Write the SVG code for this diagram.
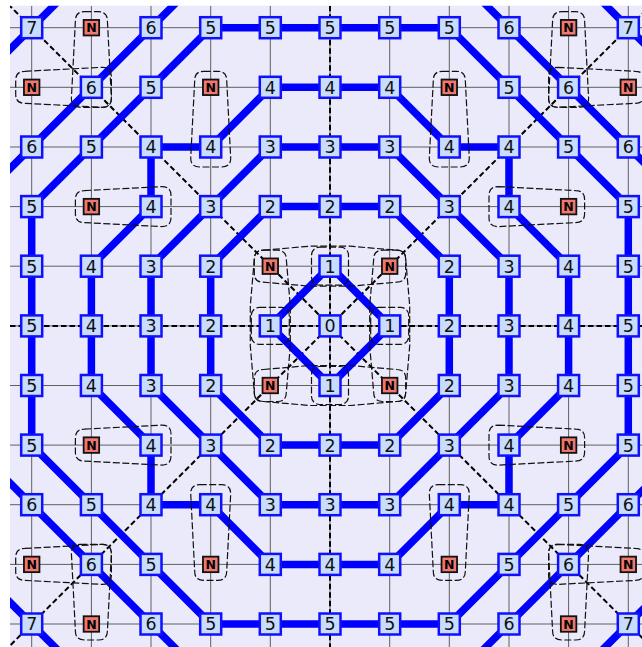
<svg xmlns="http://www.w3.org/2000/svg" xmlns:xlink="http://www.w3.org/1999/xlink" width="642" height="647" viewBox="0 0 642 647">
<style>
.grid{stroke:#606060;stroke-width:1;fill:none}
.axis{stroke:#000;stroke-width:2;stroke-dasharray:5.5 3;fill:none}
.ring{stroke:#0000ff;stroke-width:7.5;fill:none;stroke-linejoin:round;stroke-linecap:round}
.loop{fill:none;stroke:#111;stroke-width:1.2;stroke-dasharray:7 2.5}
.b{fill:#c8dcff;stroke:#1010ff;stroke-width:2.5}
.nb{fill:#f2776e;stroke:#111;stroke-width:1.8}
.t{font-family:"DejaVu Sans",sans-serif;font-size:17.5px;text-anchor:middle;fill:#111}
.tn{font-family:"DejaVu Sans",sans-serif;font-size:12.5px;font-weight:bold;text-anchor:middle;fill:#000}
</style>
<defs>
<clipPath id="plot"><rect x="10" y="5.7" width="632" height="641.3"/></clipPath>
<rect id="bx" class="b" x="-10.5" y="-10.5" width="21" height="21"/>
<rect id="nx" class="nb" x="-7.75" y="-7.75" width="15.5" height="15.5"/>
</defs>
<rect x="10" y="5.7" width="632" height="641.3" fill="#eaeafa"/>
<g clip-path="url(#plot)">
<path class="grid" d="M31.7 5.7V647M91.4 5.7V647M151 5.7V647M210.7 5.7V647M270.3 5.7V647M330 5.7V647M389.7 5.7V647M449.3 5.7V647M509 5.7V647M568.6 5.7V647M628.3 5.7V647M10 27.7H642M10 87.3H642M10 147H642M10 206.6H642M10 266.2H642M10 325.9H642M10 385.5H642M10 445.1H642M10 504.7H642M10 564.4H642M10 624H642"/>
<g id="connectors">
<path class="axis" d="M10 325.9H642M330 5.7V647M-28 -31.9L688 683.6M688 -31.9L-28 683.6"/>
<path class="ring" d="M330 266.2L389.7 325.9L330 385.5L270.3 325.9Z"/>
<path class="ring" d="M270.3 206.6H389.7L449.3 266.2V385.5L389.7 445.1H270.3L210.7 385.5V266.2Z"/>
<path class="ring" d="M270.3 147H389.7L509 266.2V385.5L389.7 504.7H270.3L151 385.5V266.2Z"/>
<path class="ring" d="M270.3 87.3H389.7L449.3 147H509V206.6L568.6 266.2V385.5L509 445.1V504.7H449.3L389.7 564.4H270.3L210.7 504.7H151V445.1L91.4 385.5V266.2L151 206.6V147H210.7Z"/>
<path class="ring" d="M210.7 27.7H449.3L628.3 206.6V445.1L449.3 624H210.7L31.7 445.1V206.6Z"/>
<path class="ring" d="M210.7 -31.9L-28 206.6M449.3 -31.9L688 206.6M-28 445.1L210.7 683.6M688 445.1L449.3 683.6"/>
<path class="ring" d="M-28 87.3L91.4 -31.9M568.6 -31.9L688 87.3M-28 564.4L91.4 683.6M568.6 683.6L688 564.4"/>
</g>
<g id="loops">
<path class="loop" d="M84.4,11.7 L98.4,11.7 Q107.4,11.7 107.4,20.7 L111.4,98.3 Q111.4,107.3 102.4,107.3 L80.4,107.3 Q71.4,107.3 71.4,98.3 L75.4,20.7 Q75.4,11.7 84.4,11.7 Z"/>
<path class="loop" d="M24.7,71.3 L102.4,67.3 Q111.4,67.3 111.4,76.3 L111.4,98.3 Q111.4,107.3 102.4,107.3 L24.7,103.3 Q15.7,103.3 15.7,94.3 L15.7,80.3 Q15.7,71.3 24.7,71.3 Z"/>
<path class="loop" d="M203.7,71.3 L217.7,71.3 Q226.7,71.3 226.7,80.3 L230.7,158 Q230.7,167 221.7,167 L199.7,167 Q190.7,167 190.7,158 L194.7,80.3 Q194.7,71.3 203.7,71.3 Z"/>
<path class="loop" d="M84.4,190.6 L162,186.6 Q171,186.6 171,195.6 L171,217.6 Q171,226.6 162,226.6 L84.4,222.6 Q75.4,222.6 75.4,213.6 L75.4,199.6 Q75.4,190.6 84.4,190.6 Z"/>
<path class="loop" d="M561.6,11.7 L575.6,11.7 Q584.6,11.7 584.6,20.7 L588.6,98.3 Q588.6,107.3 579.6,107.3 L557.6,107.3 Q548.6,107.3 548.6,98.3 L552.6,20.7 Q552.6,11.7 561.6,11.7 Z"/>
<path class="loop" d="M557.6,67.3 L635.3,71.3 Q644.3,71.3 644.3,80.3 L644.3,94.3 Q644.3,103.3 635.3,103.3 L557.6,107.3 Q548.6,107.3 548.6,98.3 L548.6,76.3 Q548.6,67.3 557.6,67.3 Z"/>
<path class="loop" d="M442.3,71.3 L456.3,71.3 Q465.3,71.3 465.3,80.3 L469.3,158 Q469.3,167 460.3,167 L438.3,167 Q429.3,167 429.3,158 L433.3,80.3 Q433.3,71.3 442.3,71.3 Z"/>
<path class="loop" d="M498,186.6 L575.6,190.6 Q584.6,190.6 584.6,199.6 L584.6,213.6 Q584.6,222.6 575.6,222.6 L498,226.6 Q489,226.6 489,217.6 L489,195.6 Q489,186.6 498,186.6 Z"/>
<path class="loop" d="M80.4,544.4 L102.4,544.4 Q111.4,544.4 111.4,553.4 L107.4,631 Q107.4,640 98.4,640 L84.4,640 Q75.4,640 75.4,631 L71.4,553.4 Q71.4,544.4 80.4,544.4 Z"/>
<path class="loop" d="M24.7,548.4 L102.4,544.4 Q111.4,544.4 111.4,553.4 L111.4,575.4 Q111.4,584.4 102.4,584.4 L24.7,580.4 Q15.7,580.4 15.7,571.4 L15.7,557.4 Q15.7,548.4 24.7,548.4 Z"/>
<path class="loop" d="M199.7,484.7 L221.7,484.7 Q230.7,484.7 230.7,493.7 L226.7,571.4 Q226.7,580.4 217.7,580.4 L203.7,580.4 Q194.7,580.4 194.7,571.4 L190.7,493.7 Q190.7,484.7 199.7,484.7 Z"/>
<path class="loop" d="M84.4,429.1 L162,425.1 Q171,425.1 171,434.1 L171,456.1 Q171,465.1 162,465.1 L84.4,461.1 Q75.4,461.1 75.4,452.1 L75.4,438.1 Q75.4,429.1 84.4,429.1 Z"/>
<path class="loop" d="M557.6,544.4 L579.6,544.4 Q588.6,544.4 588.6,553.4 L584.6,631 Q584.6,640 575.6,640 L561.6,640 Q552.6,640 552.6,631 L548.6,553.4 Q548.6,544.4 557.6,544.4 Z"/>
<path class="loop" d="M557.6,544.4 L635.3,548.4 Q644.3,548.4 644.3,557.4 L644.3,571.4 Q644.3,580.4 635.3,580.4 L557.6,584.4 Q548.6,584.4 548.6,575.4 L548.6,553.4 Q548.6,544.4 557.6,544.4 Z"/>
<path class="loop" d="M438.3,484.7 L460.3,484.7 Q469.3,484.7 469.3,493.7 L465.3,571.4 Q465.3,580.4 456.3,580.4 L442.3,580.4 Q433.3,580.4 433.3,571.4 L429.3,493.7 Q429.3,484.7 438.3,484.7 Z"/>
<path class="loop" d="M498,425.1 L575.6,429.1 Q584.6,429.1 584.6,438.1 L584.6,452.1 Q584.6,461.1 575.6,461.1 L498,465.1 Q489,465.1 489,456.1 L489,434.1 Q489,425.1 498,425.1 Z"/>
<path class="loop" d="M263.3,250.2 L310,246.2 L350,246.2 L396.7,250.2 Q405.7,250.2 405.7,259.2 L405.7,273.2 Q405.7,282.2 396.7,282.2 L350,286.2 L310,286.2 L263.3,282.2 Q254.3,282.2 254.3,273.2 L254.3,259.2 Q254.3,250.2 263.3,250.2 Z"/>
<path class="loop" d="M263.3,369.5 L310,365.5 L350,365.5 L396.7,369.5 Q405.7,369.5 405.7,378.5 L405.7,392.5 Q405.7,401.5 396.7,401.5 L350,405.5 L310,405.5 L263.3,401.5 Q254.3,401.5 254.3,392.5 L254.3,378.5 Q254.3,369.5 263.3,369.5 Z"/>
<path class="loop" d="M263.3,250.2 L277.3,250.2 Q286.3,250.2 286.3,259.2 L290.3,305.9 L290.3,345.9 L286.3,392.5 Q286.3,401.5 277.3,401.5 L263.3,401.5 Q254.3,401.5 254.3,392.5 L250.3,345.9 L250.3,305.9 L254.3,259.2 Q254.3,250.2 263.3,250.2 Z"/>
<path class="loop" d="M382.7,250.2 L396.7,250.2 Q405.7,250.2 405.7,259.2 L409.7,305.9 L409.7,345.9 L405.7,392.5 Q405.7,401.5 396.7,401.5 L382.7,401.5 Q373.7,401.5 373.7,392.5 L369.7,345.9 L369.7,305.9 L373.7,259.2 Q373.7,250.2 382.7,250.2 Z"/>
<rect class="loop" x="311.5" y="247.2" width="37" height="38" rx="8"/>
<rect class="loop" x="251.3" y="307.4" width="38" height="37" rx="8"/>
<rect class="loop" x="370.7" y="307.4" width="38" height="37" rx="8"/>
<rect class="loop" x="311.5" y="366.5" width="37" height="38" rx="8"/>
</g>
</g>
<g id="nodes">
<g id="n0-0" transform="translate(31.7 27.7)"><use href="#bx"/><text class="t" y="6.4">7</text></g>
<g id="n0-1" transform="translate(91.4 27.7)"><use href="#nx"/><text class="tn" y="4.6">N</text></g>
<g id="n0-2" transform="translate(151 27.7)"><use href="#bx"/><text class="t" y="6.4">6</text></g>
<g id="n0-3" transform="translate(210.7 27.7)"><use href="#bx"/><text class="t" y="6.4">5</text></g>
<g id="n0-4" transform="translate(270.3 27.7)"><use href="#bx"/><text class="t" y="6.4">5</text></g>
<g id="n0-5" transform="translate(330 27.7)"><use href="#bx"/><text class="t" y="6.4">5</text></g>
<g id="n0-6" transform="translate(389.7 27.7)"><use href="#bx"/><text class="t" y="6.4">5</text></g>
<g id="n0-7" transform="translate(449.3 27.7)"><use href="#bx"/><text class="t" y="6.4">5</text></g>
<g id="n0-8" transform="translate(509 27.7)"><use href="#bx"/><text class="t" y="6.4">6</text></g>
<g id="n0-9" transform="translate(568.6 27.7)"><use href="#nx"/><text class="tn" y="4.6">N</text></g>
<g id="n0-10" transform="translate(628.3 27.7)"><use href="#bx"/><text class="t" y="6.4">7</text></g>

<g id="n1-0" transform="translate(31.7 87.3)"><use href="#nx"/><text class="tn" y="4.6">N</text></g>
<g id="n1-1" transform="translate(91.4 87.3)"><use href="#bx"/><text class="t" y="6.4">6</text></g>
<g id="n1-2" transform="translate(151 87.3)"><use href="#bx"/><text class="t" y="6.4">5</text></g>
<g id="n1-3" transform="translate(210.7 87.3)"><use href="#nx"/><text class="tn" y="4.6">N</text></g>
<g id="n1-4" transform="translate(270.3 87.3)"><use href="#bx"/><text class="t" y="6.4">4</text></g>
<g id="n1-5" transform="translate(330 87.3)"><use href="#bx"/><text class="t" y="6.4">4</text></g>
<g id="n1-6" transform="translate(389.7 87.3)"><use href="#bx"/><text class="t" y="6.4">4</text></g>
<g id="n1-7" transform="translate(449.3 87.3)"><use href="#nx"/><text class="tn" y="4.6">N</text></g>
<g id="n1-8" transform="translate(509 87.3)"><use href="#bx"/><text class="t" y="6.4">5</text></g>
<g id="n1-9" transform="translate(568.6 87.3)"><use href="#bx"/><text class="t" y="6.4">6</text></g>
<g id="n1-10" transform="translate(628.3 87.3)"><use href="#nx"/><text class="tn" y="4.6">N</text></g>

<g id="n2-0" transform="translate(31.7 147)"><use href="#bx"/><text class="t" y="6.4">6</text></g>
<g id="n2-1" transform="translate(91.4 147)"><use href="#bx"/><text class="t" y="6.4">5</text></g>
<g id="n2-2" transform="translate(151 147)"><use href="#bx"/><text class="t" y="6.4">4</text></g>
<g id="n2-3" transform="translate(210.7 147)"><use href="#bx"/><text class="t" y="6.4">4</text></g>
<g id="n2-4" transform="translate(270.3 147)"><use href="#bx"/><text class="t" y="6.4">3</text></g>
<g id="n2-5" transform="translate(330 147)"><use href="#bx"/><text class="t" y="6.4">3</text></g>
<g id="n2-6" transform="translate(389.7 147)"><use href="#bx"/><text class="t" y="6.4">3</text></g>
<g id="n2-7" transform="translate(449.3 147)"><use href="#bx"/><text class="t" y="6.4">4</text></g>
<g id="n2-8" transform="translate(509 147)"><use href="#bx"/><text class="t" y="6.4">4</text></g>
<g id="n2-9" transform="translate(568.6 147)"><use href="#bx"/><text class="t" y="6.4">5</text></g>
<g id="n2-10" transform="translate(628.3 147)"><use href="#bx"/><text class="t" y="6.4">6</text></g>

<g id="n3-0" transform="translate(31.7 206.6)"><use href="#bx"/><text class="t" y="6.4">5</text></g>
<g id="n3-1" transform="translate(91.4 206.6)"><use href="#nx"/><text class="tn" y="4.6">N</text></g>
<g id="n3-2" transform="translate(151 206.6)"><use href="#bx"/><text class="t" y="6.4">4</text></g>
<g id="n3-3" transform="translate(210.7 206.6)"><use href="#bx"/><text class="t" y="6.4">3</text></g>
<g id="n3-4" transform="translate(270.3 206.6)"><use href="#bx"/><text class="t" y="6.4">2</text></g>
<g id="n3-5" transform="translate(330 206.6)"><use href="#bx"/><text class="t" y="6.4">2</text></g>
<g id="n3-6" transform="translate(389.7 206.6)"><use href="#bx"/><text class="t" y="6.4">2</text></g>
<g id="n3-7" transform="translate(449.3 206.6)"><use href="#bx"/><text class="t" y="6.4">3</text></g>
<g id="n3-8" transform="translate(509 206.6)"><use href="#bx"/><text class="t" y="6.4">4</text></g>
<g id="n3-9" transform="translate(568.6 206.6)"><use href="#nx"/><text class="tn" y="4.6">N</text></g>
<g id="n3-10" transform="translate(628.3 206.6)"><use href="#bx"/><text class="t" y="6.4">5</text></g>

<g id="n4-0" transform="translate(31.7 266.2)"><use href="#bx"/><text class="t" y="6.4">5</text></g>
<g id="n4-1" transform="translate(91.4 266.2)"><use href="#bx"/><text class="t" y="6.4">4</text></g>
<g id="n4-2" transform="translate(151 266.2)"><use href="#bx"/><text class="t" y="6.4">3</text></g>
<g id="n4-3" transform="translate(210.7 266.2)"><use href="#bx"/><text class="t" y="6.4">2</text></g>
<g id="n4-4" transform="translate(270.3 266.2)"><use href="#nx"/><text class="tn" y="4.6">N</text></g>
<g id="n4-5" transform="translate(330 266.2)"><use href="#bx"/><text class="t" y="6.4">1</text></g>
<g id="n4-6" transform="translate(389.7 266.2)"><use href="#nx"/><text class="tn" y="4.6">N</text></g>
<g id="n4-7" transform="translate(449.3 266.2)"><use href="#bx"/><text class="t" y="6.4">2</text></g>
<g id="n4-8" transform="translate(509 266.2)"><use href="#bx"/><text class="t" y="6.4">3</text></g>
<g id="n4-9" transform="translate(568.6 266.2)"><use href="#bx"/><text class="t" y="6.4">4</text></g>
<g id="n4-10" transform="translate(628.3 266.2)"><use href="#bx"/><text class="t" y="6.4">5</text></g>

<g id="n5-0" transform="translate(31.7 325.9)"><use href="#bx"/><text class="t" y="6.4">5</text></g>
<g id="n5-1" transform="translate(91.4 325.9)"><use href="#bx"/><text class="t" y="6.4">4</text></g>
<g id="n5-2" transform="translate(151 325.9)"><use href="#bx"/><text class="t" y="6.4">3</text></g>
<g id="n5-3" transform="translate(210.7 325.9)"><use href="#bx"/><text class="t" y="6.4">2</text></g>
<g id="n5-4" transform="translate(270.3 325.9)"><use href="#bx"/><text class="t" y="6.4">1</text></g>
<g id="n5-5" transform="translate(330 325.9)"><use href="#bx"/><text class="t" y="6.4">0</text></g>
<g id="n5-6" transform="translate(389.7 325.9)"><use href="#bx"/><text class="t" y="6.4">1</text></g>
<g id="n5-7" transform="translate(449.3 325.9)"><use href="#bx"/><text class="t" y="6.4">2</text></g>
<g id="n5-8" transform="translate(509 325.9)"><use href="#bx"/><text class="t" y="6.4">3</text></g>
<g id="n5-9" transform="translate(568.6 325.9)"><use href="#bx"/><text class="t" y="6.4">4</text></g>
<g id="n5-10" transform="translate(628.3 325.9)"><use href="#bx"/><text class="t" y="6.4">5</text></g>

<g id="n6-0" transform="translate(31.7 385.5)"><use href="#bx"/><text class="t" y="6.4">5</text></g>
<g id="n6-1" transform="translate(91.4 385.5)"><use href="#bx"/><text class="t" y="6.4">4</text></g>
<g id="n6-2" transform="translate(151 385.5)"><use href="#bx"/><text class="t" y="6.4">3</text></g>
<g id="n6-3" transform="translate(210.7 385.5)"><use href="#bx"/><text class="t" y="6.4">2</text></g>
<g id="n6-4" transform="translate(270.3 385.5)"><use href="#nx"/><text class="tn" y="4.6">N</text></g>
<g id="n6-5" transform="translate(330 385.5)"><use href="#bx"/><text class="t" y="6.4">1</text></g>
<g id="n6-6" transform="translate(389.7 385.5)"><use href="#nx"/><text class="tn" y="4.6">N</text></g>
<g id="n6-7" transform="translate(449.3 385.5)"><use href="#bx"/><text class="t" y="6.4">2</text></g>
<g id="n6-8" transform="translate(509 385.5)"><use href="#bx"/><text class="t" y="6.4">3</text></g>
<g id="n6-9" transform="translate(568.6 385.5)"><use href="#bx"/><text class="t" y="6.4">4</text></g>
<g id="n6-10" transform="translate(628.3 385.5)"><use href="#bx"/><text class="t" y="6.4">5</text></g>

<g id="n7-0" transform="translate(31.7 445.1)"><use href="#bx"/><text class="t" y="6.4">5</text></g>
<g id="n7-1" transform="translate(91.4 445.1)"><use href="#nx"/><text class="tn" y="4.6">N</text></g>
<g id="n7-2" transform="translate(151 445.1)"><use href="#bx"/><text class="t" y="6.4">4</text></g>
<g id="n7-3" transform="translate(210.7 445.1)"><use href="#bx"/><text class="t" y="6.4">3</text></g>
<g id="n7-4" transform="translate(270.3 445.1)"><use href="#bx"/><text class="t" y="6.4">2</text></g>
<g id="n7-5" transform="translate(330 445.1)"><use href="#bx"/><text class="t" y="6.4">2</text></g>
<g id="n7-6" transform="translate(389.7 445.1)"><use href="#bx"/><text class="t" y="6.4">2</text></g>
<g id="n7-7" transform="translate(449.3 445.1)"><use href="#bx"/><text class="t" y="6.4">3</text></g>
<g id="n7-8" transform="translate(509 445.1)"><use href="#bx"/><text class="t" y="6.4">4</text></g>
<g id="n7-9" transform="translate(568.6 445.1)"><use href="#nx"/><text class="tn" y="4.6">N</text></g>
<g id="n7-10" transform="translate(628.3 445.1)"><use href="#bx"/><text class="t" y="6.4">5</text></g>

<g id="n8-0" transform="translate(31.7 504.7)"><use href="#bx"/><text class="t" y="6.4">6</text></g>
<g id="n8-1" transform="translate(91.4 504.7)"><use href="#bx"/><text class="t" y="6.4">5</text></g>
<g id="n8-2" transform="translate(151 504.7)"><use href="#bx"/><text class="t" y="6.4">4</text></g>
<g id="n8-3" transform="translate(210.7 504.7)"><use href="#bx"/><text class="t" y="6.4">4</text></g>
<g id="n8-4" transform="translate(270.3 504.7)"><use href="#bx"/><text class="t" y="6.4">3</text></g>
<g id="n8-5" transform="translate(330 504.7)"><use href="#bx"/><text class="t" y="6.4">3</text></g>
<g id="n8-6" transform="translate(389.7 504.7)"><use href="#bx"/><text class="t" y="6.4">3</text></g>
<g id="n8-7" transform="translate(449.3 504.7)"><use href="#bx"/><text class="t" y="6.4">4</text></g>
<g id="n8-8" transform="translate(509 504.7)"><use href="#bx"/><text class="t" y="6.4">4</text></g>
<g id="n8-9" transform="translate(568.6 504.7)"><use href="#bx"/><text class="t" y="6.4">5</text></g>
<g id="n8-10" transform="translate(628.3 504.7)"><use href="#bx"/><text class="t" y="6.4">6</text></g>

<g id="n9-0" transform="translate(31.7 564.4)"><use href="#nx"/><text class="tn" y="4.6">N</text></g>
<g id="n9-1" transform="translate(91.4 564.4)"><use href="#bx"/><text class="t" y="6.4">6</text></g>
<g id="n9-2" transform="translate(151 564.4)"><use href="#bx"/><text class="t" y="6.4">5</text></g>
<g id="n9-3" transform="translate(210.7 564.4)"><use href="#nx"/><text class="tn" y="4.6">N</text></g>
<g id="n9-4" transform="translate(270.3 564.4)"><use href="#bx"/><text class="t" y="6.4">4</text></g>
<g id="n9-5" transform="translate(330 564.4)"><use href="#bx"/><text class="t" y="6.4">4</text></g>
<g id="n9-6" transform="translate(389.7 564.4)"><use href="#bx"/><text class="t" y="6.4">4</text></g>
<g id="n9-7" transform="translate(449.3 564.4)"><use href="#nx"/><text class="tn" y="4.6">N</text></g>
<g id="n9-8" transform="translate(509 564.4)"><use href="#bx"/><text class="t" y="6.4">5</text></g>
<g id="n9-9" transform="translate(568.6 564.4)"><use href="#bx"/><text class="t" y="6.4">6</text></g>
<g id="n9-10" transform="translate(628.3 564.4)"><use href="#nx"/><text class="tn" y="4.6">N</text></g>

<g id="n10-0" transform="translate(31.7 624)"><use href="#bx"/><text class="t" y="6.4">7</text></g>
<g id="n10-1" transform="translate(91.4 624)"><use href="#nx"/><text class="tn" y="4.6">N</text></g>
<g id="n10-2" transform="translate(151 624)"><use href="#bx"/><text class="t" y="6.4">6</text></g>
<g id="n10-3" transform="translate(210.7 624)"><use href="#bx"/><text class="t" y="6.4">5</text></g>
<g id="n10-4" transform="translate(270.3 624)"><use href="#bx"/><text class="t" y="6.4">5</text></g>
<g id="n10-5" transform="translate(330 624)"><use href="#bx"/><text class="t" y="6.4">5</text></g>
<g id="n10-6" transform="translate(389.7 624)"><use href="#bx"/><text class="t" y="6.4">5</text></g>
<g id="n10-7" transform="translate(449.3 624)"><use href="#bx"/><text class="t" y="6.4">5</text></g>
<g id="n10-8" transform="translate(509 624)"><use href="#bx"/><text class="t" y="6.4">6</text></g>
<g id="n10-9" transform="translate(568.6 624)"><use href="#nx"/><text class="tn" y="4.6">N</text></g>
<g id="n10-10" transform="translate(628.3 624)"><use href="#bx"/><text class="t" y="6.4">7</text></g>
</g>
</svg>
